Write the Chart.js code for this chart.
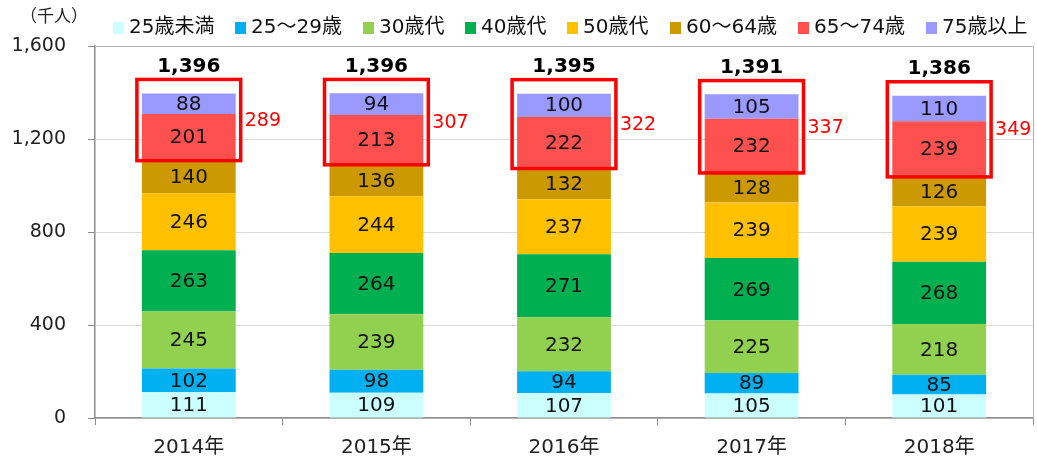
<!DOCTYPE html>
<html><head><meta charset="utf-8">
<script src="https://cdn.jsdelivr.net/npm/chart.js@4/dist/chart.umd.min.js"></script>
<style>html,body{margin:0;padding:0;background:#fff}#wrap{width:1037px;height:464px}</style>
</head><body><div id="wrap"><canvas id="c" width="1037" height="464"></canvas></div>
<script>
const categories = ['2014年','2015年','2016年','2017年','2018年'];
const seriesNames = ['25歳未満','25～29歳','30歳代','40歳代','50歳代','60～64歳','65～74歳','75歳以上'];
const under25 = [111,109,107,105,101];
const age25to29 = [102,98,94,89,85];
const age30s = [245,239,232,225,218];
const age40s = [263,264,271,269,268];
const age50s = [246,244,237,239,239];
const age60to64 = [140,136,132,128,126];
const age65to74 = [201,213,222,232,239];
const age75plus = [88,94,100,105,110];
const totals = [1396,1396,1395,1391,1386];
const elderlyTotals = [289,307,322,337,349];
const yTicks = [0,400,800,1200,1600];
const unitLabel = '（千人）';

const colors = ['#CCFFFF','#00B0F0','#92D050','#00B050','#FFC000','#CC9900','#FF5050','#9999FF'];
const allSeries = [under25,age25to29,age30s,age40s,age50s,age60to64,age65to74,age75plus];
const FONT = '"DejaVu Sans","Noto Sans CJK JP",sans-serif';

const fmt = v => v.toLocaleString('en-US');

const overlay = {
  id:'overlay',
  afterDatasetsDraw(chart){
    const ctx = chart.ctx, y = chart.scales.y, ca = chart.chartArea;
    ctx.save();
    // plot border top/right
    ctx.strokeStyle = '#b4b4b4'; ctx.lineWidth = 1;
    ctx.beginPath(); ctx.moveTo(ca.left, Math.round(ca.top)+0.5); ctx.lineTo(Math.round(ca.right)+0.5, Math.round(ca.top)+0.5);
    ctx.lineTo(Math.round(ca.right)+0.5, ca.bottom); ctx.stroke();
    // segment labels
    ctx.textAlign='center'; ctx.textBaseline='middle';
    ctx.font = '20px '+FONT; ctx.fillStyle='#111';
    chart.data.datasets.forEach((ds,di)=>{
      const meta = chart.getDatasetMeta(di);
      meta.data.forEach((bar,i)=>{
        ctx.fillText(fmt(ds.data[i]), bar.x, (bar.y+bar.base)/2+1);
      });
    });
    const topMeta = chart.getDatasetMeta(7);
    topMeta.data.forEach((bar,i)=>{
      const half = bar.width/2;
      const bTop = y.getPixelForValue(totals[i]) - 14;
      const bBot = y.getPixelForValue(totals[i]-elderlyTotals[i]) + 0;
      const l = bar.x - half - 5, r = bar.x + half + 5;
      ctx.strokeStyle = '#FF0000'; ctx.lineWidth = 3.5;
      ctx.strokeRect(l, bTop, r-l, bBot-bTop);
      ctx.fillStyle='#000'; ctx.font='bold 20px '+FONT; ctx.textAlign='center'; ctx.textBaseline='bottom';
      ctx.fillText(fmt(totals[i]), bar.x, bTop-3);
      ctx.fillStyle='#FF0000'; ctx.font='19px '+FONT; ctx.textAlign='left'; ctx.textBaseline='middle';
      ctx.fillText(fmt(elderlyTotals[i]), r+4, (bTop+bBot)/2+1);
    });
    // unit label
    ctx.fillStyle='#222'; ctx.font='17px '+FONT; ctx.textAlign='left'; ctx.textBaseline='middle';
    ctx.fillText(unitLabel, 20, 18);
    // legend
    ctx.font='20px '+FONT; ctx.textBaseline='middle';
    const boxX = [113,235,363,465,567,670,798,926];
    chart.data.datasets.forEach((ds,di)=>{
      ctx.fillStyle = ds.backgroundColor;
      ctx.fillRect(boxX[di], 22, 11, 12);
      ctx.fillStyle='#111'; ctx.textAlign='left';
      ctx.fillText(ds.label, boxX[di]+16, 28);
    });
    ctx.restore();
  }
};

new Chart(document.getElementById('c'),{
  type:'bar',
  data:{labels:categories,datasets:seriesNames.map((n,i)=>({label:n,data:allSeries[i],backgroundColor:colors[i],borderWidth:0,barPercentage:0.5,categoryPercentage:1}))},
  options:{
    responsive:false,animation:false,devicePixelRatio:1,
    layout:{padding:{top:46,right:4,left:0,bottom:0}},
    plugins:{legend:{display:false},tooltip:{enabled:false}},
    scales:{
      x:{stacked:true,offset:true,
        grid:{offset:true,drawOnChartArea:false,tickLength:7,tickColor:'#8c8c8c',color:'#8c8c8c'},
        border:{color:'#8c8c8c',width:1.5},
        ticks:{font:{family:FONT,size:20},color:'#222',padding:11},
        afterFit(s){s.height=46;}
      },
      y:{stacked:true,min:0,max:1600,
        afterBuildTicks(s){s.ticks=yTicks.map(v=>({value:v}));},
        grid:{color:'#d9d9d9',tickLength:7,tickColor:'#8c8c8c'},
        border:{color:'#8c8c8c',width:1.5},
        ticks:{font:{family:FONT,size:19},color:'#222',padding:22,callback:v=>fmt(v)},
        afterFit(s){s.width=95;}
      }
    }
  },
  plugins:[overlay]
});
</script></body></html>
